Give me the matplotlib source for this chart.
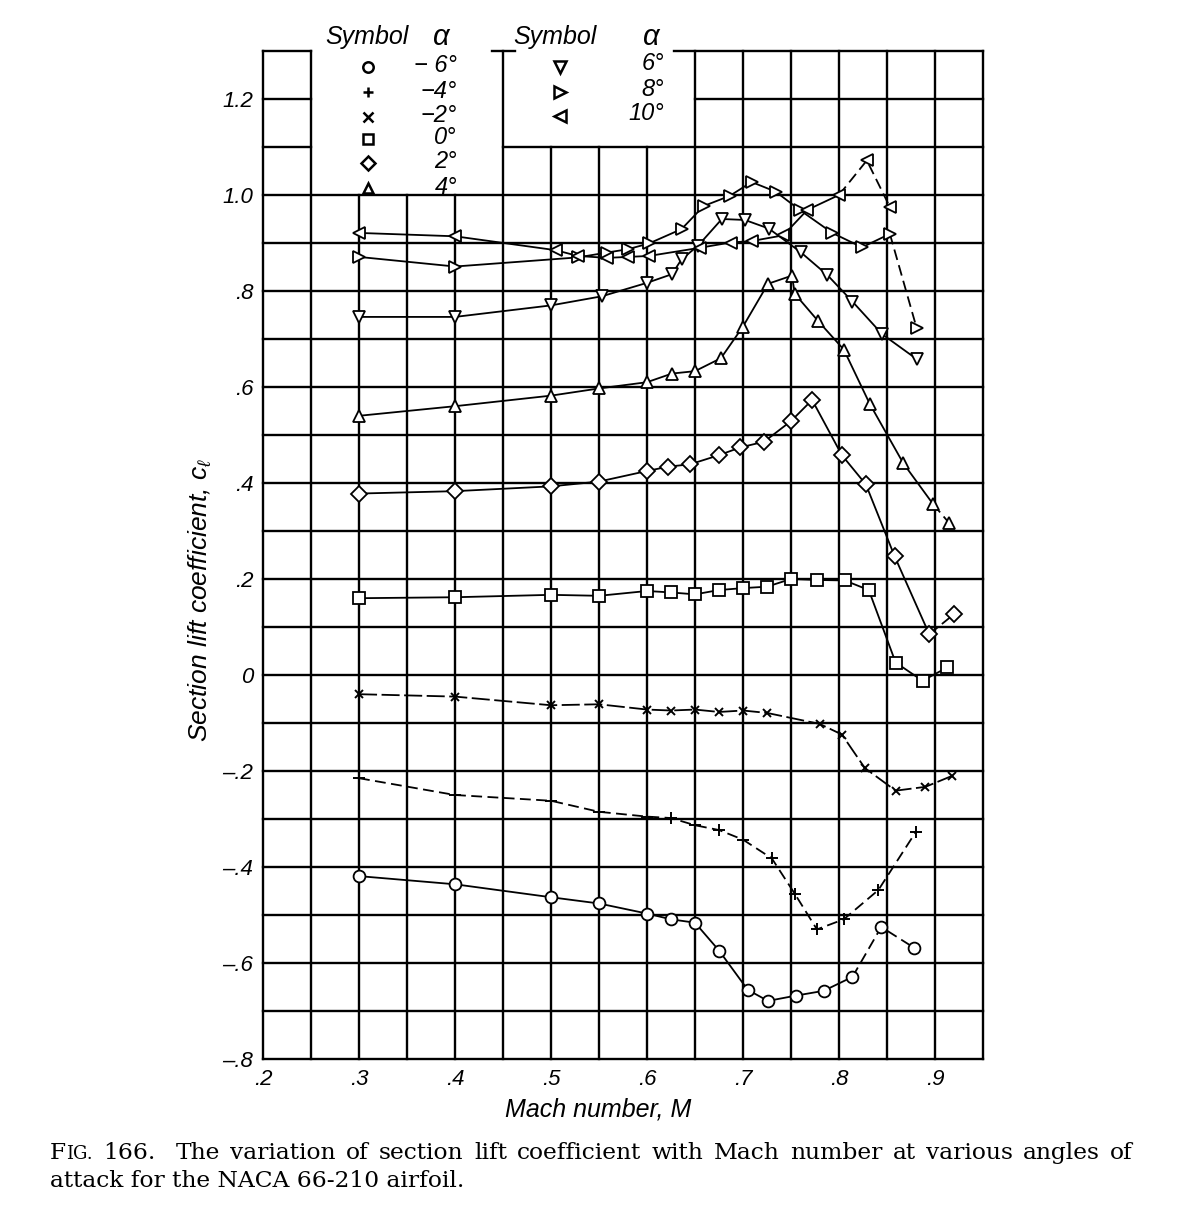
import matplotlib
matplotlib.use("Agg")
import matplotlib.pyplot as plt
import numpy as np

# ---------------- data ----------------
mach_m6 = [0.30, 0.40, 0.50, 0.55, 0.60, 0.625, 0.65, 0.675, 0.705, 0.726, 0.755, 0.784, 0.814, 0.844, 0.878]
cl_m6 = [-0.419, -0.436, -0.463, -0.476, -0.497, -0.509, -0.516, -0.574, -0.656, -0.679, -0.668, -0.658, -0.629, -0.525, -0.568]

mach_m4 = [0.30, 0.40, 0.50, 0.55, 0.60, 0.625, 0.65, 0.675, 0.70, 0.73, 0.754, 0.777, 0.805, 0.841, 0.88]
cl_m4 = [-0.215, -0.250, -0.262, -0.285, -0.295, -0.298, -0.313, -0.323, -0.343, -0.382, -0.456, -0.530, -0.509, -0.448, -0.327]

mach_m2 = [0.30, 0.40, 0.50, 0.55, 0.60, 0.625, 0.65, 0.675, 0.70, 0.725, 0.78, 0.803, 0.827, 0.859, 0.89, 0.918]
cl_m2 = [-0.040, -0.045, -0.063, -0.061, -0.072, -0.074, -0.072, -0.077, -0.074, -0.079, -0.102, -0.124, -0.194, -0.241, -0.233, -0.210]

mach_0 = [0.30, 0.40, 0.50, 0.55, 0.60, 0.625, 0.65, 0.675, 0.70, 0.725, 0.75, 0.777, 0.806, 0.831, 0.859, 0.887, 0.913]
cl_0 = [0.160, 0.162, 0.167, 0.165, 0.175, 0.172, 0.168, 0.177, 0.181, 0.184, 0.200, 0.198, 0.197, 0.177, 0.026, -0.012, 0.016]

mach_2 = [0.30, 0.40, 0.50, 0.55, 0.60, 0.622, 0.645, 0.675, 0.697, 0.722, 0.75, 0.772, 0.803, 0.828, 0.858, 0.894, 0.92]
cl_2 = [0.378, 0.383, 0.393, 0.403, 0.425, 0.434, 0.439, 0.458, 0.474, 0.486, 0.529, 0.573, 0.458, 0.397, 0.247, 0.085, 0.127]

mach_4 = [0.30, 0.40, 0.50, 0.55, 0.60, 0.626, 0.65, 0.677, 0.70, 0.726, 0.751, 0.754, 0.778, 0.805, 0.832, 0.867, 0.898, 0.915]
cl_4 = [0.540, 0.560, 0.582, 0.597, 0.610, 0.628, 0.633, 0.660, 0.726, 0.815, 0.832, 0.794, 0.738, 0.678, 0.565, 0.441, 0.356, 0.316]

mach_6 = [0.30, 0.40, 0.50, 0.553, 0.60, 0.626, 0.636, 0.653, 0.678, 0.702, 0.727, 0.760, 0.788, 0.814, 0.845, 0.881]
cl_6 = [0.746, 0.746, 0.770, 0.789, 0.817, 0.835, 0.866, 0.894, 0.950, 0.948, 0.930, 0.881, 0.833, 0.778, 0.710, 0.658]

mach_8 = [0.30, 0.40, 0.528, 0.558, 0.58, 0.602, 0.636, 0.659, 0.686, 0.709, 0.734, 0.759, 0.793, 0.824, 0.853, 0.881]
cl_8 = [0.871, 0.851, 0.870, 0.880, 0.887, 0.899, 0.929, 0.977, 0.998, 1.027, 1.007, 0.969, 0.921, 0.891, 0.919, 0.722]

mach_10 = [0.30, 0.40, 0.505, 0.528, 0.558, 0.58, 0.602, 0.655, 0.687, 0.709, 0.742, 0.767, 0.80, 0.829, 0.853]
cl_10 = [0.921, 0.914, 0.885, 0.873, 0.869, 0.871, 0.873, 0.890, 0.901, 0.904, 0.916, 0.969, 1.000, 1.072, 0.975]

x_ticks = [0.2, 0.3, 0.4, 0.5, 0.6, 0.7, 0.8, 0.9]
x_tick_labels = ['.2', '.3', '.4', '.5', '.6', '.7', '.8', '.9']
y_ticks = [-0.8, -0.6, -0.4, -0.2, 0.0, 0.2, 0.4, 0.6, 0.8, 1.0, 1.2]
y_tick_labels = ['\u2013.8', '\u2013.6', '\u2013.4', '\u2013.2', '0', '.2', '.4', '.6', '.8', '1.0', '1.2']

legend_left = ['\u2212 6\u00b0', '\u22124\u00b0', '\u22122\u00b0', '0\u00b0', '2\u00b0', '4\u00b0']
legend_right = ['6\u00b0', '8\u00b0', '10\u00b0']

# ---------------- styles ----------------
plt.rcParams['font.family'] = ['Liberation Sans', 'DejaVu Sans']
plt.rcParams['mathtext.fontset'] = 'custom'
plt.rcParams['mathtext.rm'] = 'Liberation Sans'
plt.rcParams['mathtext.it'] = 'Liberation Sans:italic'

W, H = 1200, 1219
fig = plt.figure(figsize=(W / 100, H / 100), dpi=100)
fig.patch.set_facecolor('white')

X0, X1 = 0.2, 0.95
Y0, Y1 = -0.8, 1.3
px_left, px_right = 263, 983
px_top, px_bottom = 51, 1059
ax = fig.add_axes([px_left / W, 1 - px_bottom / H, (px_right - px_left) / W, (px_bottom - px_top) / H])
ax.set_xlim(X0, X1)
ax.set_ylim(Y0, Y1)
for s in ax.spines.values():
    s.set_visible(False)


def px2data(px, py):
    return X0 + (px - px_left) / (px_right - px_left) * (X1 - X0), Y1 - (py - px_top) / (px_bottom - px_top) * (Y1 - Y0)


GLW = 1.7
gkw = dict(color='black', lw=GLW, solid_capstyle='projecting', clip_on=False, zorder=1)

# vertical grid lines (blank above legend area)
xs = np.round(np.arange(X0, X1 + 1e-9, 0.05), 3)
for xv in xs:
    if 0.25 < xv < 0.45:
        top = 1.0
    elif 0.45 < xv < 0.65:
        top = 1.1
    else:
        top = Y1
    ax.plot([xv, xv], [Y0, top], **gkw)

# horizontal grid lines
ys = np.round(np.arange(Y0, Y1 + 1e-9, 0.1), 3)
for yv in ys:
    if yv < 1.05:
        segs = [(X0, X1)]
    elif yv < 1.15:
        segs = [(X0, 0.25), (0.45, X1)]
    elif yv < 1.25:
        segs = [(X0, 0.25), (0.65, X1)]
    else:
        segs = [(X0, 0.25), (0.439, 0.462), (0.628, X1)]
    for a, b in segs:
        ax.plot([a, b], [yv, yv], **gkw)

# ---------------- series ----------------
LW = 1.3
series = [
    (mach_m6, cl_m6, 'o', 8.5, 12, None),
    (mach_m4, cl_m4, '+', 8, None, [6, 3]),
    (mach_m2, cl_m2, 'x', 6, None, [10, 2.5]),
    (mach_0, cl_0, 's', 8, None, None),
    (mach_2, cl_2, 'D', 8, 15, None),
    (mach_4, cl_4, '^', 9, 16, None),
    (mach_6, cl_6, 'v', 9, None, None),
    (mach_8, cl_8, '>', 9, 14, None),
    (mach_10, cl_10, '<', 9, 12, None),
]

for xv, yv, mk, ms, dash_from, dash_all in series:
    xv = np.asarray(xv)
    yv = np.asarray(yv)
    if dash_all is not None:
        ax.plot(xv, yv, color='black', lw=LW, dashes=dash_all, zorder=3)
    else:
        k = len(xv) - 1 if dash_from is None else dash_from
        ax.plot(xv[:k + 1], yv[:k + 1], color='black', lw=LW, zorder=3)
        if k < len(xv) - 1:
            ax.plot(xv[k:], yv[k:], color='black', lw=LW, dashes=[6, 3], zorder=3)
    ax.plot(xv, yv, ls='none', marker=mk, ms=ms, mfc='white', mec='black',
            mew=1.4 if mk in '+x' else 1.3, zorder=4, clip_on=False)

# ---------------- ticks / labels ----------------
ax.set_xticks(x_ticks)
ax.set_xticklabels(x_tick_labels, fontsize=16, style='italic')
ax.set_yticks(y_ticks)
ax.set_yticklabels(y_tick_labels, fontsize=16, style='italic')
ax.tick_params(length=0, pad=7)

fig.text(598 / W, 1 - 1110 / H, 'Mach number, M', ha='center', va='center',
         fontsize=18, style='italic')
fig.text(200 / W, 1 - 600 / H, r'Section lift coefficient, $c_\ell$', ha='center', va='center',
         rotation=90, fontsize=19, style='italic')

# ---------------- legend (symbol table) ----------------
hdr_y = 1 - 37 / H
fig.text(367 / W, hdr_y, 'Symbol', ha='center', va='center', fontsize=18, style='italic')
fig.text(441 / W, hdr_y, '\u03b1', ha='center', va='center', fontsize=21, style='italic')
fig.text(555 / W, hdr_y, 'Symbol', ha='center', va='center', fontsize=18, style='italic')
fig.text(651 / W, hdr_y, '\u03b1', ha='center', va='center', fontsize=21, style='italic')

rows_left = [67, 92, 117, 139, 163, 188]
marks_left = ['o', '+', 'x', 's', 'D', '^']
for py, mk, lab in zip(rows_left, marks_left, legend_left):
    lx, ly = px2data(368, py)
    ax.plot([lx], [ly], ls='none', marker=mk, ms=7.5 if mk not in '+x' else 7, mfc='white',
            mec='black', mew=1.8, zorder=4, clip_on=False)
    fig.text(457 / W, 1 - (py - 1) / H, lab, ha='right', va='center', fontsize=17, style='italic')

rows_right = [67, 92, 116]
marks_right = ['v', '>', '<']
for py, mk, lab in zip(rows_right, marks_right, legend_right):
    lx, ly = px2data(560, py)
    ax.plot([lx], [ly], ls='none', marker=mk, ms=8, mfc='white', mec='black', mew=1.8,
            zorder=4, clip_on=False)
    fig.text(664 / W, 1 - (py - 3) / H, lab, ha='right', va='center', fontsize=17, style='italic')

# ---------------- caption ----------------
renderer = fig.canvas.get_renderer()
cap_fs = 16.8
serif = ['DejaVu Serif']


def put(txt, px, py, fs):
    t = fig.text(px / W, 1 - py / H, txt, ha='left', va='baseline', fontsize=fs, family=serif)
    bb = t.get_window_extent(renderer)
    return t, bb.width


line1 = ['166.', 'The', 'variation', 'of', 'section', 'lift', 'coefficient', 'with', 'Mach',
         'number', 'at', 'various', 'angles', 'of']
base1 = 1159
base2 = 1187
x = 50
_, w = put('F', x, base1, cap_fs)
x += w
_, w = put('IG.', x, base1, cap_fs * 0.78)
x += w
start = x
# measure words
widths = []
tmp = []
for wd in line1:
    t, w = put(wd, 0, base1, cap_fs)
    widths.append(w)
    tmp.append(t)
for t in tmp:
    t.remove()
right_edge = 1133
ngaps = len(line1) + 1  # gap after FIG., double gap after 166.
gap = (right_edge - start - sum(widths)) / ngaps
x = start + gap
for i, (wd, w) in enumerate(zip(line1, widths)):
    put(wd, x, base1, cap_fs)
    x += w + gap * (2 if i == 0 else 1)

put('attack for the NACA 66-210 airfoil.', 50, base2, cap_fs)

fig.savefig('out.png', dpi=100, facecolor='white')
